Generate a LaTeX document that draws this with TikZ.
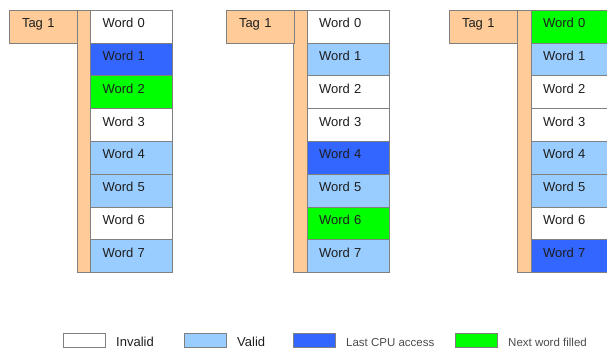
\documentclass[tikz,border=0pt]{standalone}
\usepackage{fontspec}
\setmainfont{Liberation Sans}
\usepackage{tikz}
\usepackage{color}

\definecolor{tagorange}{HTML}{FFCC99}
\definecolor{validblue}{HTML}{99CCFF}
\definecolor{lastblue}{HTML}{3366FF}
\definecolor{nextgreen}{HTML}{00FF00}
\definecolor{edgegray}{HTML}{808080}
\definecolor{inkgray}{HTML}{1E1E1E}

\begin{document}
\begin{tikzpicture}[x=1pt, y=-1pt,
		word/.style={rectangle, draw=edgegray, fill=white, text=inkgray, minimum width=82pt, minimum height=32.8pt, inner xsep=12pt, inner ysep=0pt, text width=58pt, text height=9.5pt, text depth=7pt, font=\fontsize{13}{15}\selectfont},
		invalid/.style={word},
		valid/.style={word, fill=validblue},
		last/.style={word, fill=lastblue},
		next/.style={word, fill=nextgreen},
		tag/.style={rectangle, draw=edgegray, fill=tagorange, text=inkgray, minimum width=68pt, minimum height=33pt, inner xsep=13pt, inner ysep=0pt, text width=42pt, text height=9.5pt, text depth=7pt, font=\fontsize{13}{15}\selectfont},
		bar/.style={rectangle, draw=edgegray, fill=tagorange, minimum width=14pt, minimum height=262.4pt, inner sep=0pt},
		key/.style={rectangle, draw=edgegray, minimum width=42pt, minimum height=14pt, inner sep=0pt},
		keytext/.style={anchor=base west, inner sep=0pt, text=inkgray, font=\fontsize{13}{15}\selectfont},
		keythin/.style={anchor=base west, inner sep=0pt, text=inkgray!80, font=\fontsize{11.5}{13}\selectfont}]
		\clip (0,0) rectangle (607,350);
		
		% first line
		\node[bar] (ba) at (84,141.2) {};
		\node[tag] (ta) at (43,26.5) {Tag 1};
		\node[invalid] (a0) at (131.5,26.4) {Word 0};
		\node[last] (a1) at (131.5,59.2) {Word 1};
		\node[next] (a2) at (131.5,92.0) {Word 2};
		\node[invalid] (a3) at (131.5,124.8) {Word 3};
		\node[valid] (a4) at (131.5,157.6) {Word 4};
		\node[valid] (a5) at (131.5,190.4) {Word 5};
		\node[invalid] (a6) at (131.5,223.2) {Word 6};
		\node[valid] (a7) at (131.5,256.0) {Word 7};
		
		% second line
		\node[bar] (bb) at (300.5,141.2) {};
		\node[tag] (tb) at (260,26.5) {Tag 1};
		\node[invalid] (b0) at (348,26.4) {Word 0};
		\node[valid] (b1) at (348,59.2) {Word 1};
		\node[invalid] (b2) at (348,92.0) {Word 2};
		\node[invalid] (b3) at (348,124.8) {Word 3};
		\node[last] (b4) at (348,157.6) {Word 4};
		\node[valid] (b5) at (348,190.4) {Word 5};
		\node[next] (b6) at (348,223.2) {Word 6};
		\node[valid] (b7) at (348,256.0) {Word 7};
		
		% third line
		\node[bar] (bc) at (524,141.2) {};
		\node[tag] (tc) at (483,26.5) {Tag 1};
		\node[next] (c0) at (572,26.4) {Word 0};
		\node[valid] (c1) at (572,59.2) {Word 1};
		\node[invalid] (c2) at (572,92.0) {Word 2};
		\node[invalid] (c3) at (572,124.8) {Word 3};
		\node[valid] (c4) at (572,157.6) {Word 4};
		\node[valid] (c5) at (572,190.4) {Word 5};
		\node[invalid] (c6) at (572,223.2) {Word 6};
		\node[last] (c7) at (572,256.0) {Word 7};
		
		% legend
		\node[key, fill=white] (k1) at (84,340) {};
		\node[key, fill=validblue] (k2) at (205.5,340) {};
		\node[key, fill=lastblue] (k3) at (314,340) {};
		\node[key, fill=nextgreen] (k4) at (476.5,340) {};
		\node[keytext] (l1) at (116,346) {Invalid};
		\node[keytext] (l2) at (237,346) {Valid};
		\node[keythin] (l3) at (346,346) {Last CPU access};
		\node[keythin] (l4) at (508,346) {Next word filled};
		
	\end{tikzpicture}
\end{document}
